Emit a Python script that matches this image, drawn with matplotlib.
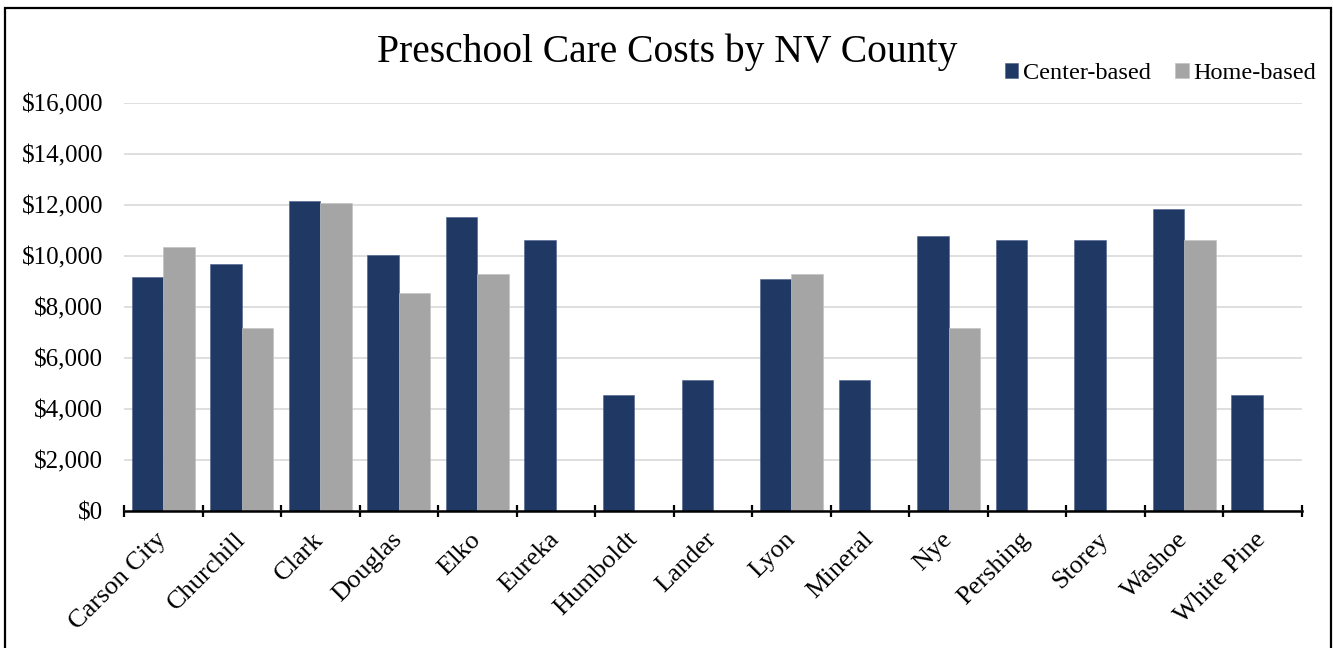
import numpy as np
import matplotlib
matplotlib.use("Agg")
import matplotlib.pyplot as plt
from matplotlib.patches import Rectangle
from matplotlib.ticker import FuncFormatter

counties = ['Carson City', 'Churchill', 'Clark', 'Douglas', 'Elko', 'Eureka', 'Humboldt',
            'Lander', 'Lyon', 'Mineral', 'Nye', 'Pershing', 'Storey', 'Washoe', 'White Pine']
center_based = [9170, 9690, 12160, 10060, 11540, 10620, 4540, 5130, 9100, 5130,
                10780, 10620, 10620, 11840, 4540]
home_based = [10380, 7180, 12090, 8560, 9300, np.nan, np.nan, np.nan, 9300, np.nan,
              7180, np.nan, np.nan, 10630, np.nan]
y_ticks = [0, 2000, 4000, 6000, 8000, 10000, 12000, 14000, 16000]

navy = '#203864'
grey = '#a5a5a5'
serif = ['Liberation Serif', 'DejaVu Serif']

fig = plt.figure(figsize=(13.33, 6.48), dpi=100)
ax = fig.add_axes([0.093, 0.2114, 0.8837, 0.6292])

x = np.arange(len(counties))
w = 0.4
ax.bar(x - w / 2, center_based, w, color=navy, label='Center-based', edgecolor='#4a5f8a', linewidth=0.4)
ax.bar(x + w / 2, home_based, w, color=grey, label='Home-based', edgecolor='#c0c0c0', linewidth=0.4)

ax.set_xlim(-0.5, len(counties) - 0.5)
ax.set_ylim(0, 16000)
ax.set_yticks(y_ticks)
ax.yaxis.set_major_formatter(FuncFormatter(lambda v, p: '${:,.0f}'.format(v)))
ax.grid(axis='y', color='#d9d9d9', linewidth=1.2)
ax.set_axisbelow(True)

for s in ['top', 'right', 'left']:
    ax.spines[s].set_visible(False)
ax.spines['bottom'].set_linewidth(1.8)
ax.spines['bottom'].set_zorder(5)

# ticks on the category boundaries, labels at the centres
ax.set_xticks(np.arange(-0.5, len(counties)), minor=False)
ax.set_xticklabels([])
ax.tick_params(axis='x', which='major', direction='inout', length=9, width=1.6)
ax.set_xticks(x, minor=True)
ax.set_xticklabels(counties, minor=True, rotation=45, ha='right', va='center',
                   rotation_mode='anchor', fontsize=19, family=serif)
ax.tick_params(axis='x', which='minor', length=0, pad=18)
ax.tick_params(axis='y', length=0, pad=15)
for lab in ax.get_yticklabels():
    lab.set_family(serif)
    lab.set_fontsize(18)

fig.text(0.5005, 0.905, 'Preschool Care Costs by NV County', ha='center', va='baseline',
         fontsize=28.5, family=serif)

ax.legend(loc='upper right', ncol=2, frameon=False, prop={'family': serif, 'size': 17.5},
          handlelength=0.55, handleheight=0.55, handletextpad=0.2, columnspacing=1.0)
leg = ax.get_legend()
leg.set_bbox_to_anchor((1.004, 0.936), transform=fig.transFigure)

fig.patches.append(Rectangle((5 / 1333, -0.1), 1326 / 1333, 1.1 - 8 / 648,
                             transform=fig.transFigure, fill=False, edgecolor='black',
                             linewidth=1.6, figure=fig))

fig.savefig('out.png', dpi=100)
